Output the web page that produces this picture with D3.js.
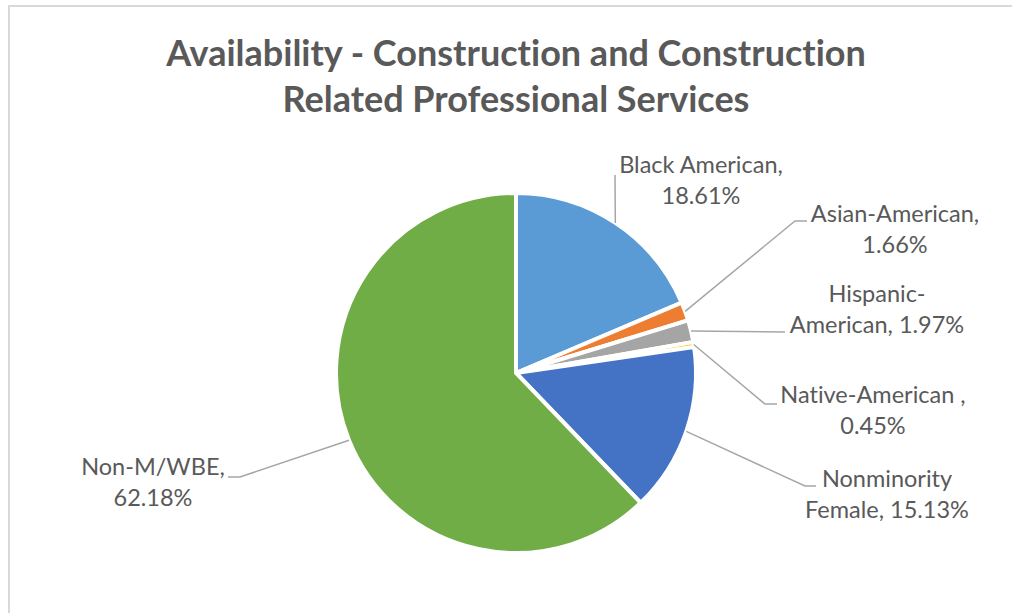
<!DOCTYPE html>
<html>
<head>
<meta charset="utf-8">
<script src="https://cdn.jsdelivr.net/npm/d3@7"></script>
<style>
  body { margin: 0; background: #fff; }
  text { font-family: Lato, "Open Sans", sans-serif; font-variant-ligatures: none; }
</style>
</head>
<body>
<script>
// data
const categories = ['Black American', 'Asian-American', 'Hispanic-American', 'Native-American ', 'Nonminority Female', 'Non-M/WBE'];
const shares = [18.61, 1.66, 1.97, 0.45, 15.13, 62.18];
const colors = ['#5B9BD5', '#ED7D31', '#A5A5A5', '#FFC000', '#4472C4', '#70AD47'];
// where each label wraps onto a second line
const firstLines = ['Black American,', 'Asian-American,', 'Hispanic-', 'Native-American ,', 'Nonminority', 'Non-M/WBE,'];

// label layout (centre x, first baseline) and leader elbows
const labelPos = [[701, 173], [895, 222], [877, 302], [873, 403], [887, 487], [153, 475]];
const elbows = [
  [[615, 175]],
  [[795, 221], [807, 221]],
  [[785, 332]],
  [[765, 404], [777, 404]],
  [[805, 486], [816, 486]],
  [[240, 477], [228, 477]]
];

const W = 1012, H = 613, cx = 516, cy = 373, R = 180;

const svg = d3.select('body').append('svg')
  .attr('width', W)
  .attr('height', H);

// chart frame (only top and left visible in crop)
svg.append('line').attr('x1', 8).attr('x2', W).attr('y1', 6).attr('y2', 6)
  .attr('stroke', '#d9d9d9').attr('stroke-width', 2);
svg.append('line').attr('x1', 9).attr('x2', 9).attr('y1', 6).attr('y2', H)
  .attr('stroke', '#d9d9d9').attr('stroke-width', 2);

// title
const title = svg.append('text')
  .attr('text-anchor', 'middle')
  .style('font-size', '36px')
  .style('font-weight', 'bold')
  .style('fill', '#595959');
title.append('tspan').attr('x', cx).attr('y', 66).text('Availability - Construction and Construction');
title.append('tspan').attr('x', cx).attr('y', 112).text('Related Professional Services');

const pie = d3.pie().sort(null).value(d => d);
const arcs = pie(shares);
const arc = d3.arc().innerRadius(0).outerRadius(R);

const g = svg.append('g').attr('transform', `translate(${cx},${cy})`);
g.selectAll('path')
  .data(arcs)
  .enter()
  .append('path')
    .attr('d', arc)
    .attr('fill', (d, i) => colors[i])
    .attr('stroke', '#fff')
    .attr('stroke-width', 4);

// leader lines
const edgePoint = d => {
  const a = (d.startAngle + d.endAngle) / 2;
  return [cx + R * Math.sin(a), cy - R * Math.cos(a)];
};
svg.selectAll('path.leader')
  .data(arcs)
  .enter()
  .append('path')
    .attr('class', 'leader')
    .attr('d', (d, i) => d3.line()([edgePoint(d)].concat(elbows[i])))
    .attr('fill', 'none')
    .attr('stroke', '#a6a6a6')
    .attr('stroke-width', 1.5);

// labels
svg.selectAll('text.lbl')
  .data(arcs)
  .enter()
  .append('text')
    .attr('class', 'lbl')
    .attr('text-anchor', 'middle')
    .style('font-size', '23.5px')
    .style('fill', '#595959')
    .each(function(d, i) {
      const full = `${categories[i]}, ${d.data.toFixed(2)}%`;
      const second = full.slice(firstLines[i].length).trim();
      const t = d3.select(this);
      t.append('tspan').attr('x', labelPos[i][0]).attr('y', labelPos[i][1]).text(firstLines[i]);
      t.append('tspan').attr('x', labelPos[i][0]).attr('y', labelPos[i][1] + 31).text(second);
    });
</script>
</body>
</html>
